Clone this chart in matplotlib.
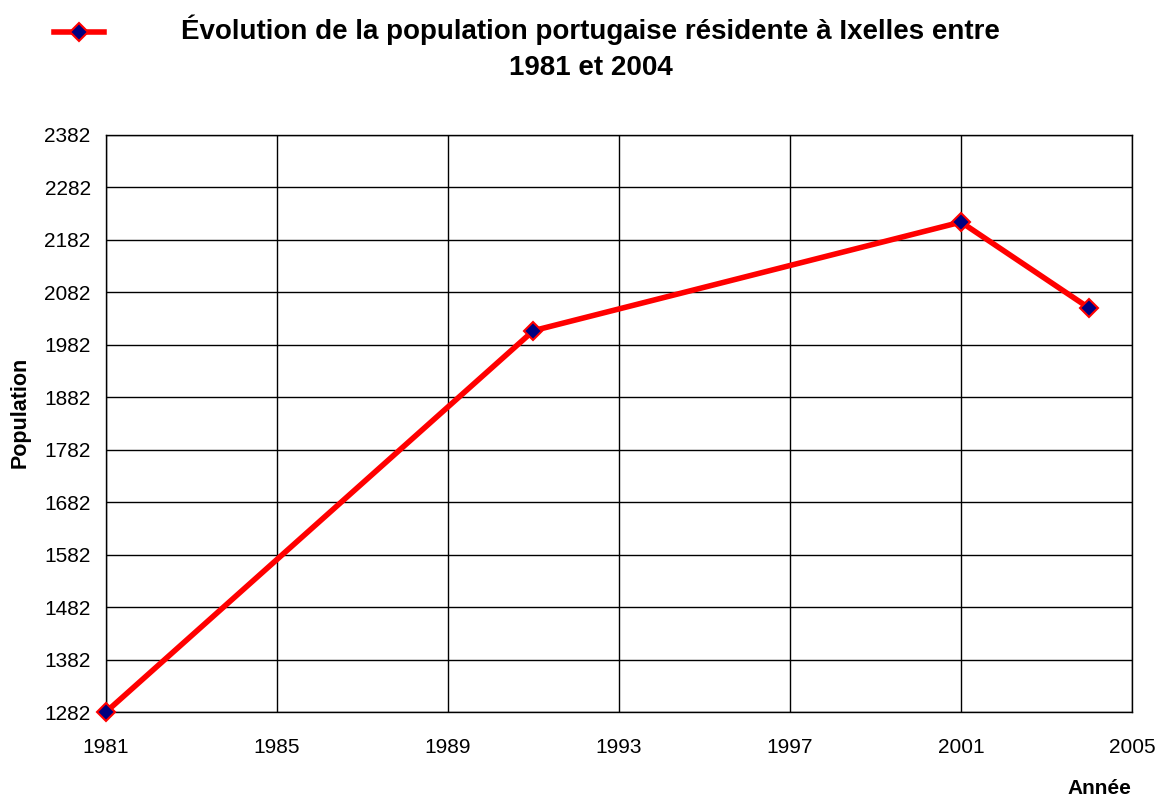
import matplotlib
matplotlib.use("Agg")
import matplotlib.pyplot as plt

annees = [1981, 1991, 2001, 2004]
population = [1282, 2009, 2216, 2052]
yticks = [1282, 1382, 1482, 1582, 1682, 1782, 1882, 1982, 2082, 2182, 2282, 2382]
xticks = [1981, 1985, 1989, 1993, 1997, 2001, 2005]

plt.rcParams['font.family'] = ['Liberation Sans', 'DejaVu Sans']

fig = plt.figure(figsize=(11.58, 8), dpi=100)
ax = fig.add_axes([0.0915, 0.11, 0.886, 0.72125])

line, = ax.plot(annees, population, color='#ff0000', linewidth=4,
                marker='D', markersize=9, markerfacecolor='#000080',
                markeredgecolor='#ff0000', markeredgewidth=1.5,
                clip_on=False, zorder=3)

ax.set_xlim(1981, 2005)
ax.set_ylim(1282, 2382)
ax.set_xticks(xticks)
ax.set_yticks(yticks)
ax.tick_params(axis='both', length=0, labelsize=15)
ax.tick_params(axis='y', pad=11)
ax.tick_params(axis='x', pad=19)
ax.grid(True, color='black', linewidth=1)
for s in ax.spines.values():
    s.set_color('black')
    s.set_linewidth(1)

fig.text(0.017, 0.485, "Population", rotation=90, fontsize=15.5,
         fontweight='bold', ha='center', va='center')
fig.text(0.949, 0.003, "Année", fontsize=15, fontweight='bold',
         ha='center', va='bottom')
fig.text(0.51, 0.982, "Évolution de la population portugaise résidente à Ixelles entre\n1981 et 2004",
         fontsize=20, fontweight='bold', ha='center', va='top', linespacing=1.5)

fig.legend([line], [""], loc='upper left', bbox_to_anchor=(0.036, 0.983),
           frameon=False, handlelength=3.6)

fig.savefig("out.png", dpi=100)
